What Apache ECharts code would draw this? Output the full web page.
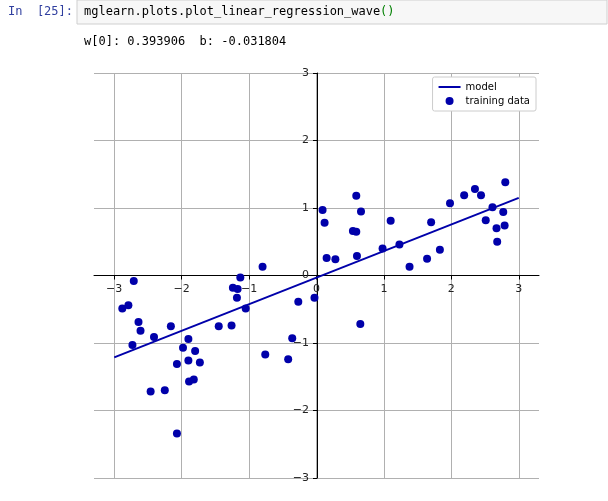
<!DOCTYPE html>
<html><head><meta charset="utf-8">
<script src="https://cdn.jsdelivr.net/npm/echarts@6/dist/echarts.min.js"></script>
<style>html,body{margin:0;padding:0;background:#fff}#c{width:608px;height:501px}</style>
</head><body><div id="c"></div>
<script>
var trainX = [-2.88,-2.79,-2.71,-2.64,-2.61,-2.73,-2.41,-2.16,-2.46,-2.25,-2.07,-2.07,-1.98,-1.90,-1.90,-1.80,-1.73,-1.89,-1.82,-1.45,-1.26,-1.24,-1.17,-1.13,-1.18,-1.05,-0.80,-0.76,-0.42,-0.36,-0.27,-0.03,
  0.09,0.12,0.15,0.28,0.54,0.59,0.59,0.66,0.60,0.65,0.98,1.10,1.23,1.38,1.64,1.70,1.83,1.98,2.19,2.35,2.44,2.51,2.61,2.67,2.68,2.77,2.79,2.80];
var trainY = [-0.49,-0.44,-0.08,-0.69,-0.82,-1.03,-0.91,-0.75,-1.72,-1.70,-2.34,-1.31,-1.07,-0.94,-1.26,-1.12,-1.29,-1.57,-1.54,-0.75,-0.74,-0.18,-0.20,-0.03,-0.33,-0.49,0.13,-1.17,-1.24,-0.93,-0.39,-0.33,
  0.97,0.78,0.26,0.24,0.66,0.65,1.18,0.95,0.29,-0.72,0.40,0.81,0.46,0.13,0.25,0.79,0.38,1.07,1.19,1.28,1.19,0.82,1.01,0.70,0.50,0.94,0.74,1.38];
var w = 0.393906, b = -0.031804;
var lineX = [-3, 3];
var tickValues = [-3, -2, -1, 0, 1, 2, 3];

var chart = echarts.init(document.getElementById('c'));
function axisCommon() {
  return {
    axisLine: {onZero: false, lineStyle: {color: '#000', width: 1}},
    axisTick: {show: true, length: 4, lineStyle: {color: '#000'}, customValues: tickValues},
    axisLabel: {color: '#222', fontSize: 11, fontFamily: 'DejaVu Sans', customValues: tickValues, showMinLabel: true, showMaxLabel: true,
      formatter: function (v) { return String(v).replace('-', '\u2212'); }},
    splitLine: {show: true, lineStyle: {color: '#b0b0b0', width: 1}}
  };
}
chart.setOption({
  animation: false,
  grid: {left: 94, right: 69, top: 73, bottom: 23},
  graphic: [
    {type: 'text', left: 8, top: 6, style: {text: 'In  [25]:', fill: '#303f9f', font: '12px "DejaVu Sans Mono"'}},
    {type: 'rect', shape: {x: 77, y: 0, width: 530, height: 24}, style: {fill: '#f7f7f7', stroke: '#cfcfcf'}},
    {type: 'text', left: 84, top: 6, style: {text: 'mglearn.plots.plot_linear_regression_wave', fill: '#000', font: '12px "DejaVu Sans Mono"'}},
    {type: 'text', left: 380, top: 6, style: {text: '()', fill: '#008000', font: '12px "DejaVu Sans Mono"'}},
    {type: 'text', left: 84, top: 36, style: {text: 'w[0]: 0.393906  b: -0.031804', fill: '#000', font: '12px "DejaVu Sans Mono"'}}
  ],
  legend: {
    right: 72, top: 77, orient: 'vertical', itemGap: 4, itemWidth: 22, itemHeight: 8,
    backgroundColor: '#fff', borderColor: '#ccc', borderWidth: 1, borderRadius: 2, padding: [5, 6],
    textStyle: {fontSize: 10, fontFamily: 'DejaVu Sans', color: '#000'},
    data: [{name: 'model', icon: 'path://M0,4L22,4L22,6L0,6Z'}, {name: 'training data', icon: 'circle'}]
  },
  xAxis: Object.assign({type: 'value', min: -3.3, max: 3.3, position: 'bottom', offset: -202.5}, axisCommon()),
  yAxis: Object.assign({type: 'value', min: -3, max: 3, interval: 1, position: 'left', offset: -223}, axisCommon()),
  series: [
    {name: 'model', type: 'line', symbol: 'none', lineStyle: {color: '#0000aa', width: 2}, itemStyle: {color: '#0000aa'},
      data: lineX.map(function (x) { return [x, w * x + b]; }), z: 3},
    {name: 'training data', type: 'scatter', symbolSize: 8, itemStyle: {color: '#0000aa', opacity: 1},
      data: trainX.map(function (x, i) { return [x, trainY[i]]; }), z: 4}
  ]
});
</script></body></html>
